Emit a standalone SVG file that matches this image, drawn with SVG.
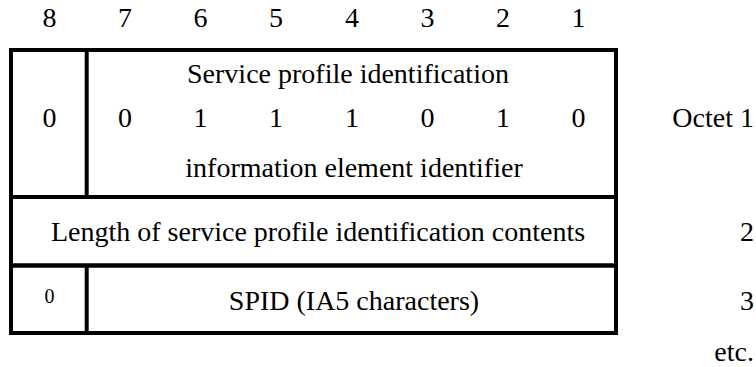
<svg xmlns="http://www.w3.org/2000/svg" width="756" height="367" viewBox="0 0 756 367">
<style>
text{font-family:'Liberation Serif','Times New Roman',serif;font-size:28px;fill:#000}
.c{text-anchor:middle}
.e{text-anchor:end}
.s{font-size:20px}
.ln{stroke:#000;stroke-width:4;fill:none}
</style>
<rect width="756" height="367" fill="#fff"/>
<g id="header">
<text class="c" x="49.5" y="27">8</text>
<text class="c" x="125" y="27">7</text>
<text class="c" x="200.5" y="27">6</text>
<text class="c" x="276" y="27">5</text>
<text class="c" x="352" y="27">4</text>
<text class="c" x="427.5" y="27">3</text>
<text class="c" x="503" y="27">2</text>
<text class="c" x="578.5" y="27">1</text>
</g>
<g id="octet1">
<rect class="ln" x="11" y="50" width="605" height="147"/>
<line class="ln" x1="86.7" y1="50" x2="86.7" y2="197"/>
<text class="c" x="49.5" y="127">0</text>
<text class="c" x="348" y="83">Service profile identification</text>
<text class="c" x="125" y="127">0</text>
<text class="c" x="200.5" y="127">1</text>
<text class="c" x="276" y="127">1</text>
<text class="c" x="352" y="127">1</text>
<text class="c" x="427.5" y="127">0</text>
<text class="c" x="503" y="127">1</text>
<text class="c" x="578.5" y="127">0</text>
<text class="c" x="354" y="177">information element identifier</text>
<text class="e" x="754" y="127">Octet 1</text>
</g>
<g id="octet2">
<rect class="ln" x="11" y="197" width="605" height="68.5"/>
<text class="c" x="318" y="241">Length of service profile identification contents</text>
<text class="e" x="754" y="241">2</text>
</g>
<g id="octet3">
<rect class="ln" x="11" y="265.5" width="605" height="67.5"/>
<line class="ln" x1="86.7" y1="265.5" x2="86.7" y2="333"/>
<text class="c s" x="49.5" y="303">0</text>
<text class="c" x="354" y="310">SPID (IA5 characters)</text>
<text class="e" x="754" y="310">3</text>
<text class="e" x="754" y="361">etc.</text>
</g>
</svg>
